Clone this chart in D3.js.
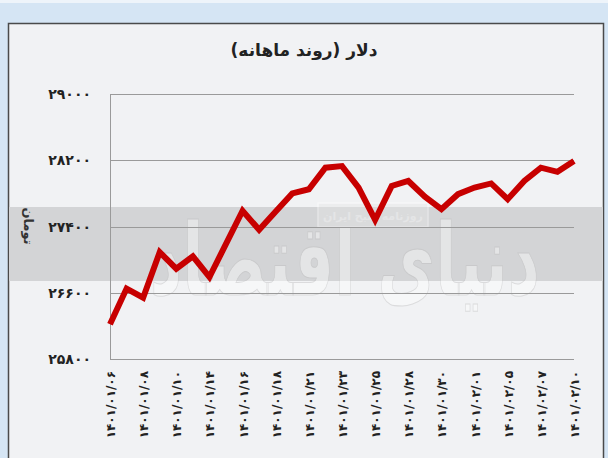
<!DOCTYPE html>
<html>
  <head>
    <meta charset="utf-8">
    <script src="https://cdnjs.cloudflare.com/ajax/libs/d3/7.8.5/d3.min.js"></script>
    <title>دلار</title>
    <style>
      body { margin: 0; background: #d5e5f4; }
      text { font-family: "DejaVu Sans", sans-serif; }
    </style>
  </head>
  <body>
    <script>
      // daily dollar rate (toman), one point per trading day
      var values = [26220, 26650, 26540, 27090, 26890, 27040, 26790, 27190, 27590, 27360,
                    27580, 27800, 27850, 28110, 28130, 27870, 27480, 27890, 27950, 27760,
                    27610, 27790, 27870, 27920, 27730, 27950, 28110, 28060, 28190];
      // labelled dates (every second point)
      var dateLabels = ["۱۴۰۱/۰۱/۰۶", "۱۴۰۱/۰۱/۰۸", "۱۴۰۱/۰۱/۱۰", "۱۴۰۱/۰۱/۱۴", "۱۴۰۱/۰۱/۱۶",
                        "۱۴۰۱/۰۱/۱۸", "۱۴۰۱/۰۱/۲۱", "۱۴۰۱/۰۱/۲۳", "۱۴۰۱/۰۱/۲۵", "۱۴۰۱/۰۱/۲۸",
                        "۱۴۰۱/۰۱/۳۰", "۱۴۰۱/۰۲/۰۱", "۱۴۰۱/۰۲/۰۵", "۱۴۰۱/۰۲/۰۷", "۱۴۰۱/۰۲/۱۰"];
      var yTicks = [25800, 26600, 27400, 28200, 29000];
      var title = "دلار (روند ماهانه)";
      var unit = "تومان";

      var W = 608, H = 458;
      var svg = d3.select("body").append("svg")
                  .attr("width", W)
                  .attr("height", H)
                  .style("display", "block");

      svg.append("rect").attr("width", W).attr("height", 3).attr("fill", "#eef4fa");

      // panel
      svg.append("rect")
         .attr("x", 8.5).attr("y", 23.5)
         .attr("width", 595).attr("height", 450)
         .attr("fill", "#f1f2f4")
         .attr("stroke", "#4a4a4a")
         .attr("stroke-width", 1.5);

      // watermark band
      svg.append("rect")
         .attr("x", 9).attr("y", 207)
         .attr("width", 594).attr("height", 74)
         .attr("fill", "#d3d4d6");

      var x = d3.scalePoint().domain(d3.range(values.length)).range([110, 574]);
      var y = d3.scaleLinear().domain([25800, 29000]).range([359, 94]);

      // watermark
      var wm = svg.append("g").attr("opacity", 0.4);
      wm.append("text")
        .attr("x", 345).attr("y", 295)
        .attr("text-anchor", "middle")
        .attr("font-size", 100)
        .attr("font-weight", "bold")
        .attr("textLength", 390)
        .attr("lengthAdjust", "spacingAndGlyphs")
        .attr("fill", "#ffffff")
        .attr("stroke", "#bbbbbb")
        .attr("stroke-width", 1)
        .text("دنیای اقتصاد");
      wm.append("rect")
        .attr("x", 318).attr("y", 203).attr("width", 110).attr("height", 24)
        .attr("fill", "#e6e6e6").attr("stroke", "#ffffff").attr("stroke-width", 1.5);
      wm.append("text")
        .attr("x", 373).attr("y", 220)
        .attr("text-anchor", "middle")
        .attr("font-size", 11)
        .attr("font-weight", "bold")
        .attr("fill", "#ffffff")
        .text("روزنامه صبح ایران");

      // grid
      svg.append("g").selectAll("line")
         .data(yTicks)
         .enter().append("line")
         .attr("x1", 110).attr("x2", 574)
         .attr("y1", function (d) { return Math.round(y(d)) + 0.5; })
         .attr("y2", function (d) { return Math.round(y(d)) + 0.5; })
         .attr("stroke", "#9a9a9a")
         .attr("stroke-width", 1);

      svg.append("line")
         .attr("x1", 110.5).attr("x2", 110.5)
         .attr("y1", y(29000)).attr("y2", y(25800) + 1)
         .attr("stroke", "#9a9a9a");

      // y labels
      var fa = function (n) {
        return String(n).replace(/\d/g, function (c) { return "۰۱۲۳۴۵۶۷۸۹"[+c]; });
      };
      svg.append("g").selectAll("text")
         .data(yTicks)
         .enter().append("text")
         .attr("x", 91)
         .attr("y", function (d) { return y(d) + 5; })
         .attr("text-anchor", "end")
         .attr("font-size", 14)
         .attr("font-weight", "bold")
         .attr("fill", "#222")
         .text(function (d) { return fa(d); });

      // x labels
      svg.append("g").selectAll("text")
         .data(dateLabels)
         .enter().append("text")
         .attr("transform", function (d, i) {
           return "translate(" + (x(i * 2) + 5) + ",371) rotate(-90)";
         })
         .attr("text-anchor", "end")
         .attr("font-size", 12)
         .attr("font-weight", "bold")
         .attr("fill", "#222")
         .text(function (d) { return d; });

      // line
      var line = d3.line()
                   .x(function (d, i) { return x(i); })
                   .y(function (d) { return y(d); });
      svg.append("path")
         .datum(values)
         .attr("d", line)
         .attr("fill", "none")
         .attr("stroke", "#c70000")
         .attr("stroke-width", 6)
         .attr("stroke-linejoin", "miter");

      // title
      svg.append("text")
         .attr("x", 304).attr("y", 56)
         .attr("text-anchor", "middle")
         .attr("font-size", 17)
         .attr("font-weight", "bold")
         .attr("fill", "#222")
         .text(title);

      // unit label
      svg.append("text")
         .attr("transform", "translate(24,226) rotate(90)")
         .attr("text-anchor", "middle")
         .attr("font-size", 13)
         .attr("font-weight", "bold")
         .attr("fill", "#333")
         .text(unit);
    </script>
  </body>
</html>
